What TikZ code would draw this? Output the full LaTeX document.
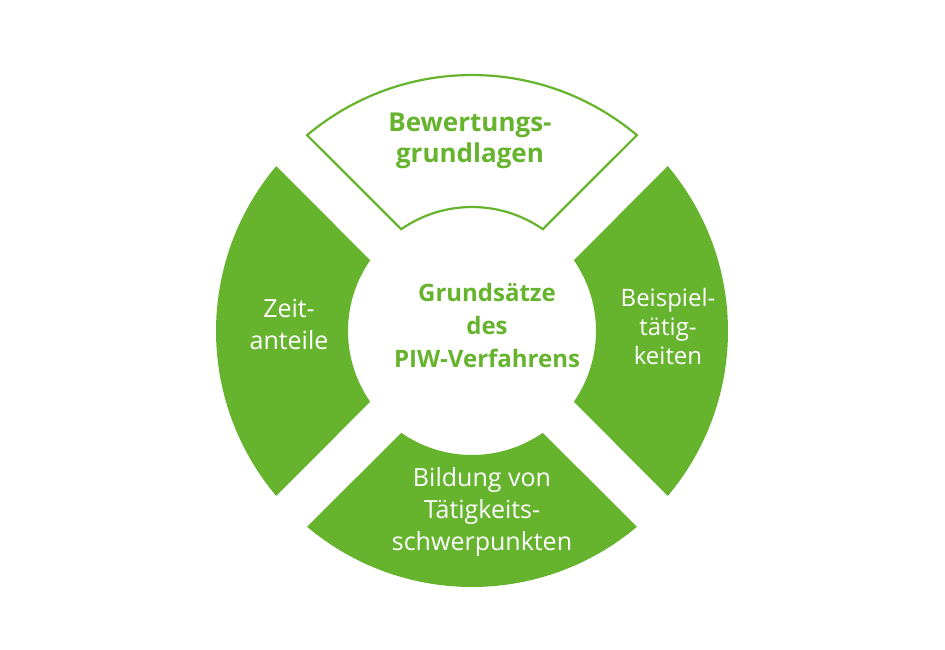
\documentclass[tikz,border=0pt]{standalone}
\usepackage{fontspec}
\setmainfont{Open Sans}
\definecolor{piw}{HTML}{66B32E}
\begin{document}
\begin{tikzpicture}[x=1pt,y=-1pt,
  seg/.style={fill=piw},
  segw/.style={fill=white,draw=piw,line width=2.2pt,line join=miter},
  lbl/.style={align=center,font=\fontsize{25}{32}\selectfont,text=white},
  lblg/.style={align=center,font=\fontsize{26}{31}\selectfont\bfseries,text=piw}]
\useasboundingbox (0,0) rectangle (945,650);
\coordinate (c) at (472,331);
\def\Ro{256}\def\Ri{124}\def\ao{49.9}\def\ai{55.2}
\foreach \r/\st in {90/seg,180/seg,270/seg}{
  \begin{scope}[shift={(c)},rotate=\r,y=1pt]
  \path[\st] (\ao:\Ro) arc[start angle=\ao,end angle=180-\ao,radius=\Ro]
    -- (180-\ai:\Ri) arc[start angle=180-\ai,end angle=\ai,radius=\Ri] -- cycle;
  \end{scope}}
\begin{scope}[shift={(c)},y=1pt]
  \path[segw] (\ao:\Ro) arc[start angle=\ao,end angle=180-\ao,radius=\Ro]
    -- (180-\ai:\Ri) arc[start angle=180-\ai,end angle=\ai,radius=\Ri] -- cycle;
\end{scope}
\node[lblg] (top) at (470,141) {Bewertungs-\\grundlagen};
\node[lblg,font=\fontsize{24}{33}\selectfont\bfseries] (mid) at (487,325) {Grundsätze\\des\\PIW-Verfahrens};
\node[lbl,font=\fontsize{25}{32}\selectfont] (left) at (289,324) {Zeit-\\anteile};
\node[lbl,font=\fontsize{24}{29}\selectfont] (right) at (668,326) {Beispiel-\\tätig-\\keiten};
\node[lbl] (bot) at (482,512) {Bildung von\\Tätigkeits-\\schwerpunkten};
\end{tikzpicture}
\end{document}
